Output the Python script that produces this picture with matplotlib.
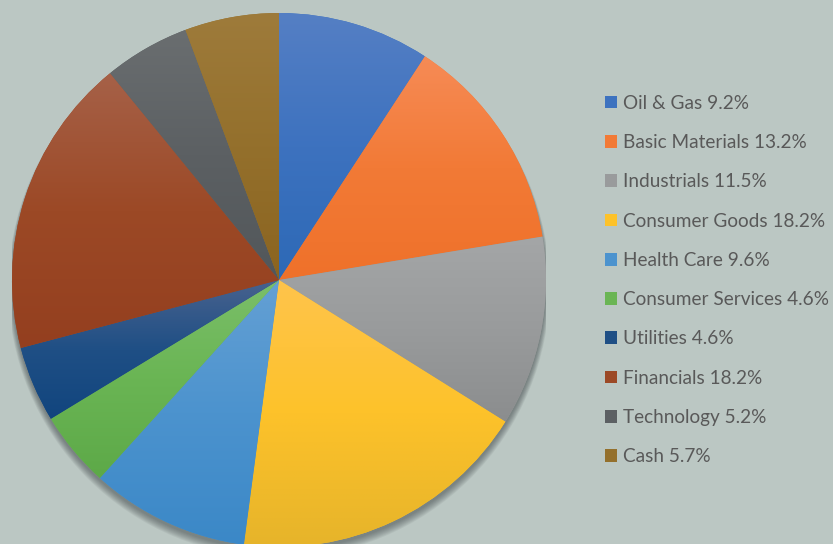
import numpy as np
import matplotlib
matplotlib.use("Agg")
import matplotlib.pyplot as plt
from matplotlib.colors import to_rgb
from matplotlib.patches import Circle

categories = ["Oil & Gas", "Basic Materials", "Industrials", "Consumer Goods",
              "Health Care", "Consumer Services", "Utilities", "Financials",
              "Technology", "Cash"]
values = [9.2, 13.2, 11.5, 18.2, 9.6, 4.6, 4.6, 18.2, 5.2, 5.7]

top_colors = ["#557FC4", "#F68B56", "#A4A6A7", "#FFC44C", "#64A0D4",
              "#7BBF6A", "#48628E", "#A66148", "#6A6E70", "#9E7B3B"]
base_colors = ["#3D72BF", "#F27A36", "#999B9C", "#FDC22A", "#4C93CE",
               "#6AB554", "#1F4F85", "#9C4926", "#5C6063", "#94702C"]
bottom_colors = ["#2D69B6", "#EF712A", "#8B8D8E", "#E6B42A", "#3B88C7",
                 "#5DA948", "#11457E", "#943F1F", "#52575A", "#8B6420"]

bg = "#BBC7C3"
W, H = 833, 544
fig = plt.figure(figsize=(W / 100, H / 100), dpi=100, facecolor=bg)

cx, cy, R = 279, 280, 267
ax = fig.add_axes([(cx - R) / W, (H - cy - R) / H, 2 * R / W, 2 * R / H])
ax.set_facecolor("none")
ax.set_xlim(-1, 1)
ax.set_ylim(-1, 1)

# soft drop shadow
for i in range(8):
    ax.add_patch(Circle((0.0, -0.012 - 0.002 * i), 1.0 + 0.002 * i,
                        facecolor="#30363a", edgecolor="none",
                        alpha=0.07, zorder=0))

wedges, _ = ax.pie(values, colors=base_colors, startangle=90, counterclock=False,
                   radius=1.0, center=(0, 0),
                   wedgeprops=dict(linewidth=0, edgecolor="none"))
ax.set_xlim(-1, 1)
ax.set_ylim(-1, 1)
ax.axis("off")

for w, tc, bc, mc in zip(wedges, top_colors, bottom_colors, base_colors):
    t1, t2 = w.theta1, w.theta2
    th = np.radians(np.linspace(t1, t2, 200))
    ys = np.concatenate([[0.0], np.sin(th)])
    ymin, ymax = ys.min(), ys.max()
    n = 256
    s = np.linspace(0, 1, n)[:, None]
    top = np.array(to_rgb(tc)); mid = np.array(to_rgb(mc)); bot = np.array(to_rgb(bc))
    grad = np.where(s < 0.5, top + (mid - top) * (s / 0.5),
                    mid + (bot - mid) * ((s - 0.5) / 0.5))
    img = np.repeat(grad[:, None, :], 2, axis=1).reshape(n, 2, 3)
    im = ax.imshow(img, extent=[-1, 1, ymin, ymax], origin="upper",
                   aspect="auto", zorder=2, interpolation="bilinear")
    im.set_clip_path(w)
ax.set_xlim(-1, 1)
ax.set_ylim(-1, 1)

labels = [f"{c} {v}%" for c, v in zip(categories, values)]
fs = 13.7
leg = fig.legend(wedges, labels, loc="center left",
                 bbox_to_anchor=(605 / W, (H - 280) / H),
                 bbox_transform=fig.transFigure, frameon=False,
                 handlelength=0.65, handleheight=0.65,
                 handletextpad=0.3, labelspacing=1.17, borderpad=0,
                 borderaxespad=0, prop={"family": "Lato", "size": fs})
for t in leg.get_texts():
    t.set_color("#595959")

fig.savefig("out.png", dpi=100, facecolor=bg)
